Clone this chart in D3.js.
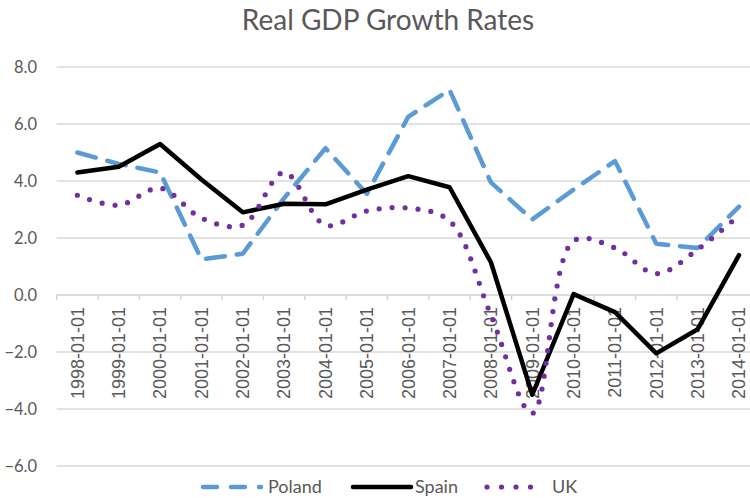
<!DOCTYPE html>
<html>
<head>
<meta charset="utf-8">
<script src="https://cdn.jsdelivr.net/npm/d3@7"></script>
<style>
  html, body { margin: 0; padding: 0; background: #fff; overflow: hidden; }
  svg { display: block; }
</style>
</head>
<body>
<div id="chart"></div>
<script>
const years = ["1998-01-01","1999-01-01","2000-01-01","2001-01-01","2002-01-01","2003-01-01",
  "2004-01-01","2005-01-01","2006-01-01","2007-01-01","2008-01-01","2009-01-01",
  "2010-01-01","2011-01-01","2012-01-01","2013-01-01","2014-01-01"];

const poland = [5.0, 4.6, 4.3, 1.25, 1.45, 3.4, 5.15, 3.55, 6.25, 7.2, 3.95, 2.65, 3.7, 4.7, 1.8, 1.65, 3.1];
const spain  = [4.3, 4.5, 5.3, 4.05, 2.9, 3.2, 3.18, 3.7, 4.17, 3.78, 1.15, -3.5, 0.03, -0.6, -2.05, -1.2, 1.4];
const uk     = [3.5, 3.15, 3.75, 2.7, 2.45, 4.3, 2.45, 2.95, 3.05, 2.6, -0.7, -4.15, 1.9, 1.65, 0.75, 1.6, 2.8];

const yTicks = [-6, -4, -2, 0, 2, 4, 6, 8];

const W = 750, H = 498;
const svg = d3.select("#chart").append("svg")
  .attr("width", W)
  .attr("height", H);

const x = d3.scaleBand().domain(years).range([56.7, 759.7]);
const y = d3.scaleLinear().domain([-6, 8]).range([466, 67]);

const labelFont = "Lato, 'Open Sans', sans-serif";
const grey = "#595959";

// title
svg.append("text")
  .attr("x", 388).attr("y", 30)
  .attr("text-anchor", "middle")
  .attr("font-family", labelFont)
  .attr("font-size", 28)
  .attr("font-weight", 400)
  .attr("fill", grey)
  .text("Real GDP Growth Rates");

// gridlines
svg.append("g").selectAll("line")
  .data(yTicks.filter(d => d !== 0))
  .join("line")
  .attr("x1", 56.7).attr("x2", 760)
  .attr("y1", d => y(d)).attr("y2", d => y(d))
  .attr("stroke", "#d9d9d9").attr("stroke-width", 1.3);

// y labels
svg.append("g").selectAll("text")
  .data(yTicks)
  .join("text")
  .attr("x", 37)
  .attr("y", d => y(d))
  .attr("dy", "0.35em")
  .attr("text-anchor", "end")
  .attr("font-family", labelFont)
  .attr("font-size", 16.5)
  .attr("fill", grey)
  .text(d => d3.format(".1f")(d));

// zero axis with ticks at category boundaries
const axis = svg.append("g").attr("transform", `translate(0,${y(0)})`);
axis.append("line")
  .attr("x1", 56.7).attr("x2", 760)
  .attr("stroke", "#d0d0d0").attr("stroke-width", 1.3);
axis.selectAll("line.tick")
  .data(years.map((d, i) => i).concat([years.length]))
  .join("line")
  .attr("class", "tick")
  .attr("x1", i => 56.7 + i * x.step()).attr("x2", i => 56.7 + i * x.step())
  .attr("y1", 0).attr("y2", 5)
  .attr("stroke", "#d0d0d0").attr("stroke-width", 1.3);

// x labels (rotated)
svg.append("g").selectAll("text")
  .data(years)
  .join("text")
  .attr("transform", d => `translate(${x(d) + x.bandwidth() / 2},${y(0) + 12}) rotate(-90)`)
  .attr("text-anchor", "end")
  .attr("dy", "0.35em")
  .attr("font-family", "'Liberation Sans', Arial, sans-serif")
  .attr("font-size", 18)
  .attr("fill", grey)
  .text(d => d);

const cx = d => x(d) + x.bandwidth() / 2;

const series = [
  { name: "Poland", values: poland, color: "#5b9bd5", dash: "19,12", width: 4.5, curve: d3.curveLinear },
  { name: "Spain", values: spain, color: "#000000", dash: null, width: 4.5, curve: d3.curveLinear },
  { name: "UK", values: uk, color: "#7030a0", dash: "0,13", width: 5.2, curve: d3.curveCatmullRom.alpha(0.5) }
];

series.forEach(s => {
  const line = d3.line()
    .x((d, i) => cx(years[i]))
    .y(d => y(d))
    .curve(s.curve);
  svg.append("path")
    .datum(s.values)
    .attr("d", line)
    .attr("fill", "none")
    .attr("stroke", s.color)
    .attr("stroke-width", s.width)
    .attr("stroke-linecap", "round")
    .attr("stroke-linejoin", "round")
    .attr("stroke-dasharray", s.dash);
});

// legend
const legendItems = [
  { s: series[0], x0: 203, x1: 261, tx: 268 },
  { s: series[1], x0: 353, x1: 411, tx: 415 },
  { s: series[2], x0: 487, x1: 545, tx: 552 }
];
const legendY = 487;
const lg = svg.append("g");
legendItems.forEach(it => {
  lg.append("line")
    .attr("x1", it.x0).attr("x2", it.x1)
    .attr("y1", legendY).attr("y2", legendY)
    .attr("stroke", it.s.color)
    .attr("stroke-width", it.s.width)
    .attr("stroke-linecap", "round")
    .attr("stroke-dasharray", it.s.name === "Poland" ? "14,14" : it.s.name === "UK" ? "0,14.5" : null);
  lg.append("text")
    .attr("x", it.tx).attr("y", legendY)
    .attr("dy", "0.35em")
    .attr("font-family", labelFont)
    .attr("font-size", 18)
    .attr("fill", grey)
    .text(it.s.name);
});
</script>
</body>
</html>
